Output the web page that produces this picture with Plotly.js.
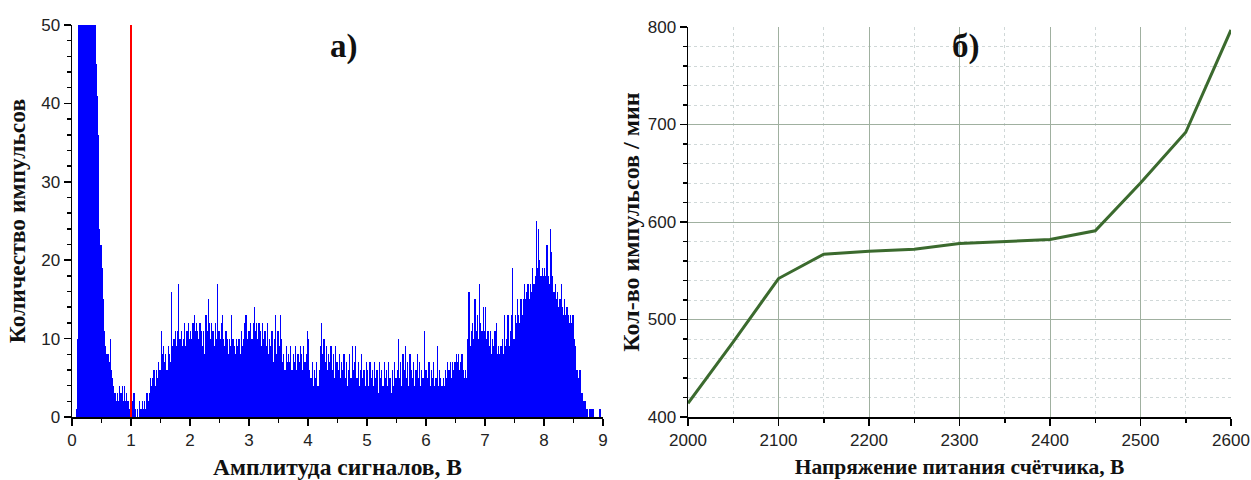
<!DOCTYPE html>
<html>
<head>
<meta charset="utf-8">
<script src="https://cdn.plot.ly/plotly-3.0.1.min.js"></script>
<style>html,body{margin:0;padding:0;background:#fff;}#chart{width:1251px;height:480px;}</style>
</head>
<body>
<div id="chart"></div>
<script>
// Panel а): pulse-height spectrum, bin width 0.02 V, counts per bin (one array per volt)
const binWidth = 0.02;
const counts_0_1 = [0,0,0,1,10,62,95,130,150,165,170,168,160,150,135,118,100,82,65,52,45,41,36,24,22,19,15,11,9,8,8,7,10,6,5,4,3,2,3,2,4,3,4,2,4,2,3,2,1,4];
const counts_1_2 = [3,2,3,1,0,1,0,2,1,2,1,2,1,3,2,3,5,4,5,6,4,6,5,7,6,11,8,9,7,8,6,9,8,7,16,9,10,11,9,11,17,10,11,9,10,12,9,11,12,10];
const counts_2_3 = [11,10,12,13,11,12,11,10,12,11,9,11,8,13,11,15,12,10,12,11,9,12,10,17,11,10,12,13,10,9,11,10,8,10,9,13,10,9,8,10,9,10,8,11,9,10,12,13,10,11];
const counts_3_4 = [11,12,10,12,14,11,12,10,12,11,9,12,10,11,9,12,8,10,9,11,7,10,13,8,11,9,13,10,7,8,6,9,7,8,7,9,6,8,7,9,6,8,7,9,8,6,9,7,8,11];
const counts_4_5 = [10,6,5,7,4,6,5,7,4,6,9,12,8,10,7,9,6,8,7,9,6,8,5,9,7,6,8,5,7,6,8,5,7,4,6,8,5,9,6,7,9,5,7,4,6,8,5,6,4,7];
const counts_5_6 = [6,4,7,5,6,4,7,5,6,3,7,5,6,4,7,5,6,4,7,5,3,6,4,7,5,6,10,5,7,4,8,6,9,5,7,4,8,6,5,7,4,6,8,5,7,4,6,5,11,6];
const counts_6_7 = [6,5,7,4,6,5,7,4,5,9,4,6,5,4,5,4,6,5,7,6,7,5,7,6,7,8,7,8,6,7,8,6,5,6,5,10,16,9,11,12,10,15,11,13,10,17,12,11,14,11];
const counts_7_8 = [14,10,11,9,11,8,10,9,11,12,8,9,8,9,10,8,13,9,10,13,9,11,13,19,10,13,12,15,13,12,15,13,15,17,15,16,17,15,17,16,19,17,18,25,19,24,20,18,19,18];
const counts_8_9 = [19,18,22,18,17,24,21,18,16,17,15,16,14,15,17,14,13,15,13,14,13,12,13,12,13,10,9,6,6,5,6,3,3,2,2,2,1,0,1,1,1,1,0,0,0,0,0,1,0,0];
const thresholdV = 1.0;

// Panel б): counting characteristic
const voltage = [2000,2050,2100,2150,2200,2250,2300,2350,2400,2450,2500,2550,2600];
const rate = [414,477,542,567,570,572,578,580,582,591,640,692,797];

const counts = [].concat(counts_0_1,counts_1_2,counts_2_3,counts_3_4,counts_4_5,counts_5_6,counts_6_7,counts_7_8,counts_8_9);
const binCenters = counts.map((c,i)=> +(i*binWidth + binWidth/2).toFixed(3));

const tickFont = {family:'Liberation Sans, Arial, sans-serif', size:17, color:'#222'};
const serif = 'Liberation Serif, Times New Roman, serif';
function tf(size){ return {family:serif, size:size, color:'#111', weight:'bold'}; }

const traces = [
  {type:'bar', x:binCenters, y:counts, width:binWidth, marker:{color:'#0000ff', line:{width:0}}, xaxis:'x', yaxis:'y', hoverinfo:'x+y'},
  {type:'scatter', mode:'lines', x:voltage, y:rate, line:{color:'#3b6a2e', width:3}, xaxis:'x2', yaxis:'y2'}
];

const layout = {
  width:1251, height:480,
  margin:{l:0, r:0, t:0, b:0},
  paper_bgcolor:'#fff', plot_bgcolor:'#fff',
  showlegend:false, bargap:0,
  xaxis:{domain:[72/1251, 603/1251], range:[0,9], dtick:1, tick0:0, ticks:'outside', ticklen:7, tickwidth:1.5, tickcolor:'#000',
    minor:{dtick:0.5, ticks:'outside', ticklen:4, tickcolor:'#000'},
    showline:true, linecolor:'#000', linewidth:1.5, showgrid:false, zeroline:false, tickfont:tickFont, anchor:'y',
    title:{text:'Амплитуда сигналов, В', font:tf(23.5), standoff:10}},
  yaxis:{domain:[63/480, 455/480], range:[0,50], dtick:10, ticks:'outside', ticklen:7, tickwidth:1.5, tickcolor:'#000',
    minor:{dtick:2, ticks:'outside', ticklen:4, tickcolor:'#000'},
    showline:true, linecolor:'#000', linewidth:1.5, showgrid:false, zeroline:false, tickfont:tickFont, anchor:'x',
    title:{text:'Количество импульсов', font:tf(23.5), standoff:9}},
  xaxis2:{domain:[688/1251, 1231/1251], range:[2000,2600], dtick:100, ticks:'outside', ticklen:7, tickwidth:1.5, tickcolor:'#000',
    minor:{dtick:50, ticks:'outside', ticklen:4, tickcolor:'#000', showgrid:true, gridcolor:'#d0d8d8', griddash:'dot', gridwidth:1},
    showline:true, linecolor:'#000', linewidth:1.5, showgrid:true, gridcolor:'#a0b0a0', gridwidth:1, zeroline:false, tickfont:tickFont, anchor:'y2',
    title:{text:'Напряжение питания счётчика, В', font:tf(21.5), standoff:10}},
  yaxis2:{domain:[63/480, 453/480], range:[400,800], dtick:100, ticks:'outside', ticklen:7, tickwidth:1.5, tickcolor:'#000',
    minor:{dtick:20, ticks:'outside', ticklen:4, tickcolor:'#000', showgrid:true, gridcolor:'#d0d8d8', griddash:'dot', gridwidth:1},
    showline:true, linecolor:'#000', linewidth:1.5, showgrid:true, gridcolor:'#a0b0a0', gridwidth:1, zeroline:false, tickfont:tickFont, anchor:'x2',
    title:{text:'Кол-во импульсов / мин', font:tf(24), standoff:1}},
  shapes:[{type:'line', xref:'x', yref:'y', x0:thresholdV, x1:thresholdV, y0:0, y1:50, line:{color:'#ff0000', width:2}}],
  annotations:[
    {text:'а)', xref:'paper', yref:'paper', x:344/1251, y:1-47/480, showarrow:false, xanchor:'center', yanchor:'middle', font:tf(33)},
    {text:'б)', xref:'paper', yref:'paper', x:966/1251, y:1-47/480, showarrow:false, xanchor:'center', yanchor:'middle', font:tf(33)}
  ]
};

Plotly.newPlot('chart', traces, layout, {displayModeBar:false, staticPlot:true});
</script>
</body>
</html>
